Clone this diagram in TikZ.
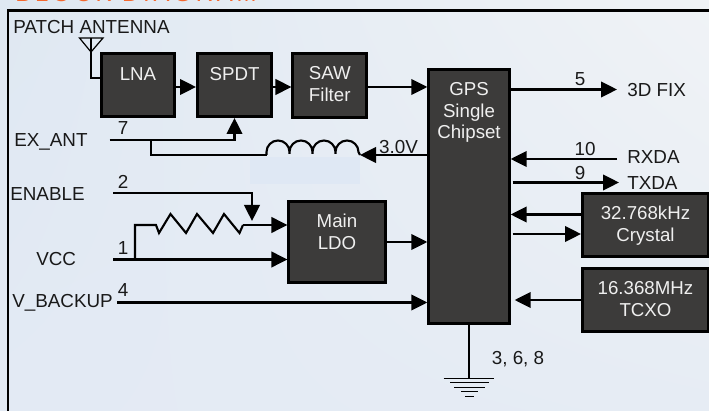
\documentclass[tikz,border=0pt]{standalone}
\usepackage{fontspec}
\setmainfont{Liberation Sans}
\usepackage{tikz}
\usetikzlibrary{arrows.meta}
\usetikzlibrary{shadings}
\newlength{\px}
\setlength{\px}{0.25mm}
\definecolor{blockfill}{HTML}{3C3B3A}
\definecolor{blocktext}{HTML}{EFEFEF}
\definecolor{titleorange}{HTML}{F4682F}
\definecolor{paneltl}{HTML}{DFE8F2}
\definecolor{paneltr}{HTML}{F0F3F6}
\definecolor{panelbl}{HTML}{E3EAF4}
\definecolor{panelbr}{HTML}{E6ECF4}
\definecolor{panelpatch}{HTML}{DFE8F4}
\newfontfamily\titlefont[LetterSpace=16]{Liberation Sans}
\newcommand{\blockbody}[4]{\begin{minipage}[t][#2\px]{#1\px}\centering\vspace*{#3\px}#4\end{minipage}}
\tikzset{
  block/.style={draw=black, fill=blockfill, text=blocktext, line width=2.6\px,
    inner sep=0cm, font=\fontsize{13.3}{15.4}\selectfont},
  wire/.style={draw=black, line width=2.1\px},
  sig/.style={wire, -{Triangle[length=4mm, width=3.9mm]}},
  pin/.style={font=\fontsize{13.4}{15}\selectfont, text=black!90, inner sep=0cm},
}
\begin{document}
\begin{tikzpicture}[x=1\px, y=-1\px]
\path[use as bounding box, clip] (0,0) rectangle (709,411);
\shade[upper left=paneltl, upper right=paneltr,
  lower left=panelbl, lower right=panelbr] (0,0) rectangle (709,411);
\fill[panelpatch] (250,157) rectangle (360,184);
\draw (15, 2) node[anchor=base west, inner sep=0cm, text=titleorange,
  font=\titlefont\fontsize{17}{17}\selectfont] (title) {BLOCK DIAGRAM};
\draw[line width=2.6\px] (709,10.5) -- (8,10.5) -- (8,412);

\draw (138, 85) node[block] (lna) {\blockbody{73.4}{63.4}{14}{LNA}};
\draw (234.5, 85) node[block] (spdt) {\blockbody{74.4}{63.4}{14}{SPDT}};
\draw (329.75, 85.5) node[block] (saw) {\blockbody{74}{64.4}{13}{SAW\\Filter}};
\draw (469, 196.5) node[block] (gps) {\blockbody{80.8}{254.4}{13}{GPS\\Single\\Chipset}};
\draw (337, 241.85) node[block] (ldo) {\blockbody{96.6}{81}{13}{Main\\LDO}};
\draw (645.5, 225) node[block] (crystal) {\blockbody{126.4}{63.4}{13}{32.768kHz\\Crystal}};
\draw (645.5, 300) node[block] (tcxo) {\blockbody{126.4}{63.4}{13}{16.368MHz\\TCXO}};

\draw (13, 27) node[pin, anchor=west] (patch) {PATCH ANTENNA};
\draw (14, 142) node[pin, anchor=west] (exant) {EX\_ANT};
\draw (10, 194) node[pin, anchor=west] (enable) {ENABLE};
\draw (36, 259) node[pin, anchor=west] (vcc) {VCC};
\draw (12, 303) node[pin, anchor=west] (vbackup) {V\_BACKUP};
\draw (627, 90) node[pin, anchor=west] (fix) {3D FIX};
\draw (627, 157) node[pin, anchor=west] (rxda) {RXDA};
\draw (627, 183) node[pin, anchor=west] (txda) {TXDA};
\draw (123, 128) node[pin] (pinseven) {7};
\draw (123, 182) node[pin] (pintwo) {2};
\draw (123, 248) node[pin] (pinone) {1};
\draw (123, 290) node[pin] (pinfour) {4};
\draw (580, 79) node[pin] (pinfive) {5};
\draw (585, 149) node[pin] (pinten) {10};
\draw (580, 173) node[pin] (pinnine) {9};
\draw (398.5, 147) node[pin] (volts) {3.0V};
\draw (518, 359) node[pin] (pinsground) {3, 6, 8};

\coordinate (anttip) at (91,52);
\coordinate (exantend) at (109.5,140);
\coordinate (exantjoin) at (151,140);
\coordinate (coilleft) at (266.5,155);
\coordinate (coilright) at (360,155);
\coordinate (enableend) at (113,193);
\coordinate (enablearrow) at (252,221);
\coordinate (vccend) at (113,259.5);
\coordinate (vccjoin) at (135,259.5);
\coordinate (vbackupend) at (117,302.5);
\coordinate (fixend) at (617,89.5);
\coordinate (rxdaend) at (617,159);
\coordinate (txdaend) at (619,182.5);
\coordinate (gndtop) at (469,378.5);

\draw[wire, line width=1.2\px] (79.5,38) -- (103,38) -- (anttip) -- cycle;
\draw[wire, line width=1.2\px] (91,38) -- (anttip);
\draw[wire] (anttip) |- ([yshift=7\px]lna.west);
\draw[sig] (lna.east |- 0,87) -- (spdt.west |- 0,87);
\draw[sig] (spdt.east |- 0,87) -- (saw.west |- 0,87);
\draw[sig] (saw.east |- 0,87) -- (gps.west |- 0,87);
\draw[sig] (gps.east |- fixend) -- (fixend);
\draw[sig] (rxdaend) -- (rxdaend -| gps.east);
\draw[sig] ([xshift=2\px]gps.east |- txdaend) -- (txdaend);
\draw[sig] (exantend) -| (spdt.south);
\draw[wire] (exantjoin) |- (coilleft);
\draw[wire] (coilleft) -- ++(0,-3)
  arc[start angle=180, end angle=360, radius=11.5] -- ++(0,2)
  -- ++(0,-2) arc[start angle=180, end angle=360, radius=11.5] -- ++(0,2)
  -- ++(0,-2) arc[start angle=180, end angle=360, radius=11.5] -- ++(0,2)
  -- ++(0,-2) arc[start angle=180, end angle=360, radius=11.5] -- (coilright);
\draw[sig] (gps.west |- coilright) -- (coilright);
\draw[sig] (enableend) -| (enablearrow);
\draw[wire] (vccjoin) |- (156,225) -- (159,233) -- (170.5,214) -- (186,233) -- (197,214)
  -- (213,233) -- (224,214) -- (239.5,233) -- (243,225);
\draw[sig] (243,225) -- (ldo.west |- 0,225);
\draw[sig] (vccend) -- (vccend -| ldo.west);
\draw[sig] (vbackupend) -- (vbackupend -| gps.west);
\draw[sig] (ldo.east |- 0,242) -- (gps.west |- 0,242);
\draw[sig] (crystal.west |- 0,214.5) -- (gps.east |- 0,214.5);
\draw[sig] ([xshift=2\px]gps.east |- 0,234) -- (crystal.west |- 0,234);
\draw[sig] (tcxo.west |- 0,300) -- ([xshift=4\px]gps.east |- 0,300);
\draw[wire, line width=1.4\px] (gps.south) -- (gndtop);
\draw[wire, line width=1.4\px] (443.5,378.7) -- (494,378.7);
\draw[wire, line width=1.4\px] (450,382.7) -- (489,382.7);
\draw[wire, line width=1.4\px] (454,387.3) -- (485,387.3);
\draw[wire, line width=1.4\px] (461,391.5) -- (478,391.5);
\draw[wire, line width=1.4\px] (465,396.7) -- (474,396.7);
\end{tikzpicture}
\end{document}
